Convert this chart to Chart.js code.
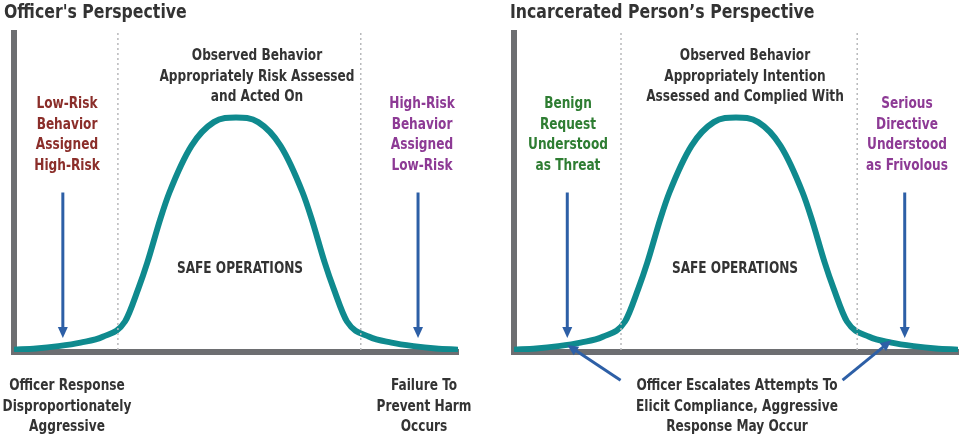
<!DOCTYPE html>
<html><head><meta charset="utf-8">
<script src="https://cdn.jsdelivr.net/npm/chart.js@4"></script>
<style>
body{margin:0;width:960px;height:435px;background:#fff;position:relative;overflow:hidden;font-family:"DejaVu Sans Condensed","Liberation Sans Narrow",sans-serif;font-weight:bold}
.c{position:absolute;top:0;height:435px;width:480px}
.t{position:absolute;white-space:nowrap;text-align:center;transform:translateX(-50%) scaleX(0.9);font-size:15px;line-height:20.5px;color:#333}
.h{position:absolute;font-size:19px;color:#333;top:0;transform-origin:left;transform:scaleX(0.92)}
</style></head><body>
<div class="c" style="left:0"><canvas id="a" width="480" height="435"></canvas></div>
<div class="c" style="left:480px"><canvas id="b" width="480" height="435"></canvas></div>
<div class="h" style="left:4px">Officer's Perspective</div>
<div class="h" style="left:510px">Incarcerated Person’s Perspective</div>
<div class="t" style="left:257px;top:45px">Observed Behavior<br>Appropriately Risk Assessed<br>and Acted On</div>
<div class="t" style="left:67px;top:93px;color:#8b2e2a">Low-Risk<br>Behavior<br>Assigned<br>High-Risk</div>
<div class="t" style="left:422px;top:93px;color:#8d3a95">High-Risk<br>Behavior<br>Assigned<br>Low-Risk</div>
<div class="t" style="left:240px;top:258px">SAFE OPERATIONS</div>
<div class="t" style="left:67px;top:375px">Officer Response<br>Disproportionately<br>Aggressive</div>
<div class="t" style="left:424px;top:375px">Failure To<br>Prevent Harm<br>Occurs</div>
<div class="t" style="left:745px;top:45px">Observed Behavior<br>Appropriately Intention<br>Assessed and Complied With</div>
<div class="t" style="left:568px;top:93px;color:#2e7d32">Benign<br>Request<br>Understood<br>as Threat</div>
<div class="t" style="left:907px;top:93px;color:#8d3a95">Serious<br>Directive<br>Understood<br>as Frivolous</div>
<div class="t" style="left:735px;top:258px">SAFE OPERATIONS</div>
<div class="t" style="left:737px;top:375px">Officer Escalates Attempts To<br>Elicit Compliance, Aggressive<br>Response May Occur</div>
<script>
const curveX=[0,5,10,15,20,25,28,30,33,35,40,45,50,55,60,65,67,70,72,75,80,85,90,95,100];
const curveY=[1,1.5,2.5,4,6.5,13,27,38,57,68,88,98,100,98,88,68,57,38,27,13,6.5,4,2.5,1.5,1];
const dividersA=[23.4,78.1];
const dividersB=[24.1,77.3];
const arrowsA=[11,91];
const arrowsB=[12,88];
const diagB=[[24,-12,12,3],[74,-12,85,5]];
const AX='#6d6e71',TEAL='#0f8a8e',BLUE='#2d5fa6';
function mk(id,padL,padR,dividers,arrows,diags){
  const deco={id:'deco',afterDatasetsDraw(ch){
    const c=ch.ctx,x=ch.scales.x,y=ch.scales.y;
    c.save();
    c.strokeStyle='#b8b9bb';c.lineWidth=1.5;c.setLineDash([2,3]);
    dividers.forEach(v=>{c.beginPath();c.moveTo(x.getPixelForValue(v),y.top);c.lineTo(x.getPixelForValue(v),y.bottom);c.stroke();});
    c.setLineDash([]);
    const arr=(x1,y1,x2,y2)=>{c.strokeStyle=BLUE;c.fillStyle=BLUE;c.lineWidth=3;
      const an=Math.atan2(y2-y1,x2-x1),L=11;
      c.beginPath();c.moveTo(x1,y1);c.lineTo(x2-Math.cos(an)*L*0.8,y2-Math.sin(an)*L*0.8);c.stroke();
      c.beginPath();c.moveTo(x2,y2);c.lineTo(x2-L*Math.cos(an)+5*Math.sin(an),y2-L*Math.sin(an)-5*Math.cos(an));
      c.lineTo(x2-L*Math.cos(an)-5*Math.sin(an),y2-L*Math.sin(an)+5*Math.cos(an));c.closePath();c.fill();};
    arrows.forEach(v=>arr(x.getPixelForValue(v),y.getPixelForValue(68),x.getPixelForValue(v),y.getPixelForValue(6)));
    diags.forEach(d=>arr(x.getPixelForValue(d[0]),y.getPixelForValue(d[1]),x.getPixelForValue(d[2]),y.getPixelForValue(d[3])));
    c.restore();}};
  new Chart(document.getElementById(id),{type:'line',
    data:{datasets:[{data:curveX.map((v,i)=>({x:v,y:curveY[i]})),borderColor:TEAL,borderWidth:6,pointRadius:0,tension:0.4,cubicInterpolationMode:'monotone'}]},
    options:{responsive:false,animation:false,events:[],layout:{padding:{left:padL,right:padR,top:33,bottom:83}},
      plugins:{legend:{display:false},tooltip:{enabled:false}},
      scales:{x:{type:'linear',min:0,max:100,ticks:{display:false},grid:{display:false,drawTicks:false},border:{color:AX,width:6}},
              y:{min:0,max:136,ticks:{display:false},grid:{display:false,drawTicks:false},border:{color:AX,width:6}}}},
    plugins:[deco]});
}
mk('a',14,22,dividersA,arrowsA,[]);
mk('b',34,2,dividersB,arrowsB,diagB);
</script></body></html>
